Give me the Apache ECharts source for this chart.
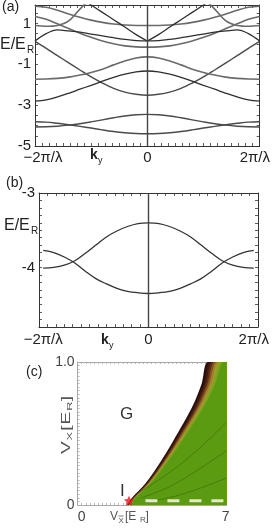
<!DOCTYPE html>
<html><head><meta charset="utf-8">
<script src="https://cdn.jsdelivr.net/npm/echarts@6/dist/echarts.min.js"></script>
<style>html,body{margin:0;padding:0;background:#fff}#c{width:273px;height:528px}</style>
</head><body><div id="c"></div>
<script>
// ---------- data ----------
const kGrid = [-1,-0.9,-0.8,-0.7,-0.6,-0.5,-0.4,-0.3,-0.2,-0.1,0,0.1,0.2,0.3,0.4,0.5,0.6,0.7,0.8,0.9,1];

// panel (a) bands, E/E_R vs k (units of 2π/λ)
const bandA = [1.84,1.79,1.64,1.46,1.30,1.16,1.05,0.97,0.92,0.90,0.90,0.90,0.92,0.97,1.05,1.16,1.30,1.46,1.64,1.79,1.84];
const bandB = [1.34,1.20,0.98,0.75,0.52,0.32,0.14,0.00,-0.10,-0.15,-0.16,-0.15,-0.10,0.00,0.14,0.32,0.52,0.75,0.98,1.20,1.34];
const bandC = [0.90,0.86,0.90,1.12,1.70,2.25,2.80,null,null,null,null,null,null,null,2.80,2.25,1.70,1.12,0.90,0.86,0.90];
const bandD = [null,null,null,2.60,2.26,1.90,1.54,1.18,0.82,0.45,0.14,0.45,0.82,1.18,1.54,1.90,2.26,2.60,null,null,null];
const bandE = [0.14,0.50,0.68,0.63,0.57,0.48,0.39,0.30,0.22,0.16,0.14,0.16,0.22,0.30,0.39,0.48,0.57,0.63,0.68,0.50,0.14];
const bandF = [0.12,-0.22,-0.58,-0.93,-1.28,-1.62,-1.92,-2.18,-2.36,-2.47,-2.52,-2.47,-2.36,-2.18,-1.92,-1.62,-1.28,-0.93,-0.58,-0.22,0.12];
const bandG = [-1.73,-1.72,-1.69,-1.63,-1.53,-1.40,-1.24,-1.03,-0.84,-0.69,-0.64,-0.69,-0.84,-1.03,-1.24,-1.40,-1.53,-1.63,-1.69,-1.72,-1.73];
const bandH = [-2.80,-2.74,-2.60,-2.42,-2.22,-2.03,-1.83,-1.64,-1.48,-1.37,-1.33,-1.37,-1.48,-1.64,-1.83,-2.03,-2.22,-2.42,-2.60,-2.74,-2.80];
const bandI = [-4.07,-4.06,-4.03,-3.98,-3.91,-3.82,-3.72,-3.62,-3.53,-3.47,-3.45,-3.47,-3.53,-3.62,-3.72,-3.82,-3.91,-3.98,-4.03,-4.06,-4.07];
const bandJ = [-3.81,-3.83,-3.89,-3.96,-4.04,-4.12,-4.21,-4.29,-4.35,-4.39,-4.40,-4.39,-4.35,-4.29,-4.21,-4.12,-4.04,-3.96,-3.89,-3.83,-3.81];

// panel (b) bands
const bandP = [-4.01,-4.00,-3.97,-3.91,-3.81,-3.70,-3.59,-3.51,-3.45,-3.41,-3.40,-3.41,-3.45,-3.51,-3.59,-3.70,-3.81,-3.91,-3.97,-4.00,-4.01];
const bandQ = [-3.77,-3.80,-3.86,-3.94,-4.05,-4.15,-4.22,-4.28,-4.32,-4.34,-4.35,-4.34,-4.32,-4.28,-4.22,-4.15,-4.05,-3.94,-3.86,-3.80,-3.77];

// tick labels
const kTickVals = [-1, 0, 1];
const kTickText = ['\u22122\u03c0/\u03bb', '0', '2\u03c0/\u03bb'];
const aYTicks = [-5, -3, -1, 1];
const bYTicks = [-4, -3];
const cXTicks = [0, 7];
const cYTicks = [0, 1];
const cYTickText = ['0', '1.0'];

// panel (c) phase diagram: contour edges [V_Xbar, V_X], outermost (dark edge) first
const cEdge0 = [[2.22,0],[2.45,0.05],[3.10,0.15],[3.83,0.3],[4.66,0.5],[5.42,0.7],[5.84,0.85],[6.14,1.0],[7.05,1.0]];
const cEdge1 = [[2.25,0],[2.48,0.05],[3.14,0.15],[3.89,0.3],[4.74,0.5],[5.51,0.7],[5.95,0.85],[6.26,1.0],[7.05,1.0]];
const cEdge2 = [[2.27,0],[2.51,0.05],[3.18,0.15],[3.93,0.3],[4.80,0.5],[5.59,0.7],[6.03,0.85],[6.36,1.0],[7.05,1.0]];
const cEdge3 = [[2.29,0],[2.53,0.05],[3.21,0.15],[3.98,0.3],[4.86,0.5],[5.67,0.7],[6.12,0.85],[6.46,1.0],[7.05,1.0]];
const cEdge4 = [[2.31,0],[2.56,0.05],[3.24,0.15],[4.02,0.3],[4.92,0.5],[5.74,0.7],[6.21,0.85],[6.56,1.0],[7.05,1.0]];
const cEdge5 = [[2.33,0],[2.58,0.05],[3.27,0.15],[4.06,0.3],[4.98,0.5],[5.82,0.7],[6.30,0.85],[6.66,1.0],[7.05,1.0]];
const cEdge6 = [[2.35,0],[2.60,0.05],[3.30,0.15],[4.11,0.3],[5.04,0.5],[5.89,0.7],[6.39,0.85],[6.76,1.0],[7.05,1.0]];
const cGreen = [[2.38,0],[2.64,0.05],[3.35,0.15],[4.17,0.3],[5.12,0.5],[5.99,0.7],[6.50,0.85],[6.89,1.0],[7.05,1.0]];
const cLine1 = [[3.1,0.02],[4.5,0.06],[6.0,0.13],[7.05,0.19]];
const cLine2 = [[2.9,0.05],[4.3,0.13],[5.7,0.25],[7.05,0.38]];
const cLine3 = [[2.7,0.08],[4.1,0.21],[5.6,0.38],[7.05,0.58]];
const cDash = [[3.1,0.03],[7.02,0.03]];
const cStar = [[2.30,0.03]];

// ---------- chart ----------
const FF = '"Liberation Sans", Arial, Helvetica, sans-serif';
const chart = echarts.init(document.getElementById('c'), null, {renderer:'canvas'});

function ax(gridIndex, position, min, max, interval, color, extra) {
  return Object.assign({
    type:'value', gridIndex, position, min, max, interval,
    axisLine:{show:true, onZero:false, lineStyle:{color, width:1}},
    axisTick:{show:true, inside:true, length:3, lineStyle:{color, width:0.8}},
    splitLine:{show:false},
    axisLabel:{show:false}
  }, extra || {});
}
function lbl(values, fmt, margin, color, size, rich) {
  return {axisLabel:{show:true, customValues:values, formatter:fmt, margin, color, fontSize:size||13, fontFamily:FF, rich:rich||{}, showMinLabel:true, showMaxLabel:true}};
}
const kFmtA = v => { const i = kTickVals.indexOf(v); return i<0 ? '' : (i===0 ? '{l|' + kTickText[0] + '}' : i===2 ? '{r|' + kTickText[2] + '}' : kTickText[1]); };
const kFmtB = v => { const i = kTickVals.indexOf(v); return i<0 ? '' : kTickText[i]; };
const richA = {
  l:{width:55, align:'right', fontSize:15, fontFamily:FF, color:'#222'},
  r:{width:40, align:'left', fontSize:15, fontFamily:FF, color:'#222'}
};

const xAxis = [
  ax(0,'bottom',-1,1,0.0625,'#333', lbl(kTickVals, kFmtA, 4, '#222', 15, richA)),
  ax(0,'top',-1,1,0.0625,'#333'),
  ax(1,'bottom',-1.04,1.04,0.08,'#333', lbl(kTickVals, kFmtB, 5, '#222', 15)),
  ax(1,'top',-1.04,1.04,0.08,'#333'),
  ax(2,'bottom',-0.2,7.05,0.2,'#aaa', lbl(cXTicks, v => String(v), 5, '#444', 14)),
  ax(2,'top',-0.2,7.05,0.2,'#aaa')
];
const yAxis = [
  ax(0,'left',-5,1.9,0.5,'#333', lbl(aYTicks, v => aYTicks.indexOf(v)<0 ? '' : String(v), 4, '#222', 15)),
  ax(0,'right',-5,1.9,0.5,'#333'),
  ax(1,'left',-4.8,-3,0.1,'#333', lbl(bYTicks, v => bYTicks.indexOf(v)<0 ? '' : String(v), 4, '#222', 15)),
  ax(1,'right',-4.8,-3,0.1,'#333'),
  ax(2,'left',0,1,0.025,'#aaa', lbl(cYTicks, v => { const i = cYTicks.indexOf(v); return i<0?'':cYTickText[i]; }, 3, '#444', 14)),
  ax(2,'right',0,1,0.025,'#aaa')
];
xAxis[4].axisTick.length = 2; xAxis[5].axisTick.length = 2; yAxis[4].axisTick.length = 2; yAxis[5].axisTick.length = 2;

function band(vals, xi, yi, color, width, keep) {
  return {type:'line', xAxisIndex:xi, yAxisIndex:yi, smooth:0.35, showSymbol:false, silent:true,
    data: kGrid.map((k,i) => [k, (keep && !keep(k)) ? null : vals[i]]),
    lineStyle:{color, width}, z:3};
}
const zeroLine = {silent:true, symbol:'none', label:{show:false}, lineStyle:{color:'#444', width:1.4, type:'solid'}, data:[{xAxis:0}]};

const GRAY = '#6a6a6a', DARK = '#2e2e2e', MID = '#4a4a4a';
const series = [
  Object.assign(band(bandA,0,0,GRAY,1.6), {markLine: zeroLine}),
  band(bandB,0,0,GRAY,1.6),
  band(bandC,0,0,GRAY,1.6),
  band(bandD,0,0,DARK,1.3, k => k<=0),
  band(bandD,0,0,DARK,1.3, k => k>=0),
  band(bandE,0,0,DARK,1.3),
  band(bandF,0,0,MID,1.4),
  band(bandG,0,0,GRAY,1.6),
  band(bandH,0,0,DARK,1.3),
  band(bandI,0,0,MID,1.4),
  band(bandJ,0,0,MID,1.4),
  Object.assign(band(bandP,2,2,'#333',1.3), {markLine: zeroLine}),
  band(bandQ,2,2,'#333',1.3)
];
function fill(data, color) {
  return {type:'line', xAxisIndex:4, yAxisIndex:4, data, smooth:0.3, showSymbol:false, silent:true,
    lineStyle:{width:0, color}, areaStyle:{color, opacity:1}, z:2};
}
series.push(
  fill(cEdge0,'#2a100c'), fill(cEdge1,'#3c1911'), fill(cEdge2,'#5c2a16'), fill(cEdge3,'#82521f'),
  fill(cEdge4,'#a07e2a'), fill(cEdge5,'#a09a2c'), fill(cEdge6,'#7ea321'), fill(cGreen,'#5a9b12')
);
[cLine1, cLine2, cLine3].forEach(d => series.push({type:'line', xAxisIndex:4, yAxisIndex:4, data:d, smooth:0.4, showSymbol:false, silent:true, lineStyle:{color:'rgba(40,80,0,0.5)', width:0.8}, z:3}));
series.push({type:'line', xAxisIndex:4, yAxisIndex:4, data:cDash, showSymbol:false, silent:true, lineStyle:{color:'#e4e6d6', width:3, type:[12,10]}, z:4});
series.push({type:'scatter', xAxisIndex:4, yAxisIndex:4, data:cStar, silent:true, symbol:'path://M0,-10L2.9,-4L9.5,-3.1L4.7,1.5L5.9,8.1L0,5L-5.9,8.1L-4.7,1.5L-9.5,-3.1L-2.9,-4Z', symbolSize:10, itemStyle:{color:'#e8141c'}, z:5});

function T(x, y, text, size, color, weight) {
  return {type:'text', x, y, silent:true, style:{text, font: (weight?weight+' ':'') + size+'px '+FF, fill: color||'#222', textAlign:'left', textVerticalAlign:'top'}};
}
const graphic = [
  T(2,0,'(a)',14), T(6,176,'(b)',14), T(26,365,'(c)',14),
  T(0,37,'E/E',16), T(27,45,'R',10),
  T(90,148,'k',14,'#222','bold'), T(98,156,'y',9),
  T(4,218,'E/E',16), T(31,226,'R',10),
  T(101,333,'k',14,'#222','bold'), T(109,341,'y',9),
  T(120,406,'G',17,'#333'), T(120,483,'I',17,'#333'), T(192,461,'D',17,'#f2f2e6'),
  T(110,511,'V',12,'#555'), T(118.5,517,'X',8,'#555'), T(125,511,'[E',12,'#555'), T(140,516,'R',8,'#555'), T(145.5,511,']',12,'#555'),
  {type:'line', silent:true, shape:{x1:118.5,y1:516,x2:123.5,y2:516}, style:{stroke:'#555', lineWidth:0.8}},
  {type:'group', x:61, y:454, rotation:Math.PI/2, scaleX:1.6, silent:true, children:[
    T(0,0,'V',12,'#555'), T(8.5,5,'X',8,'#555'), T(14.5,0,'[',12,'#555'), T(18.5,0,'E',12,'#555'), T(27,5,'R',8,'#555'), T(33,0,']',12,'#555')
  ]}
];

chart.setOption({
  animation:false,
  backgroundColor:'#fff',
  grid:[
    {left:35, top:5, width:226, height:141},
    {left:39, top:193, width:219, height:134},
    {left:77.6, top:362, width:149, height:143}
  ],
  xAxis, yAxis, series, graphic
});
</script></body></html>
